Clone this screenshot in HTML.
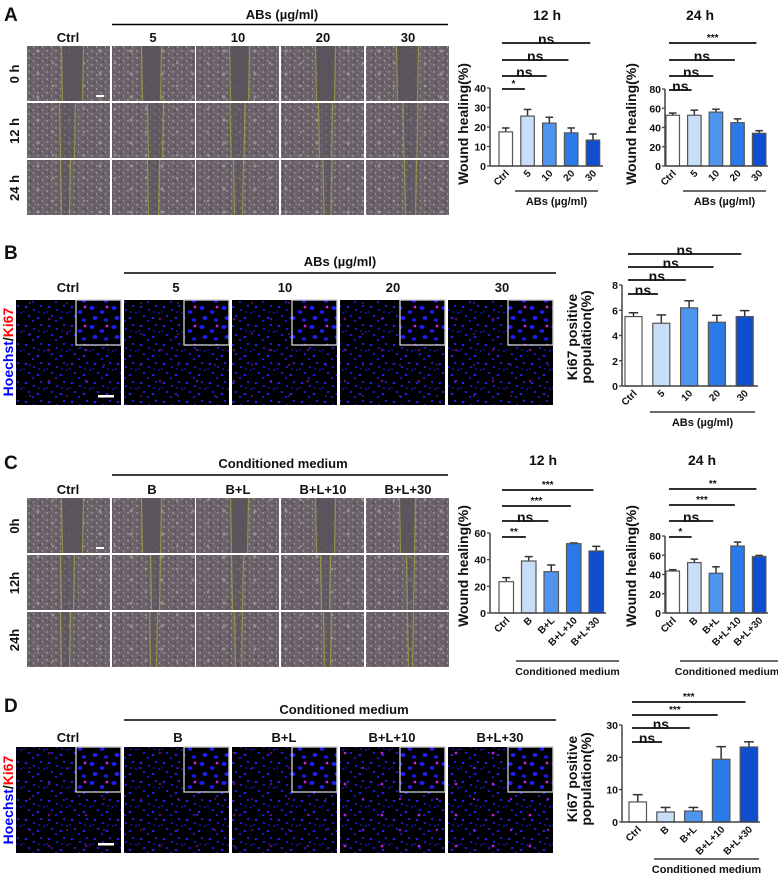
<!DOCTYPE html>
<html><head><meta charset="utf-8"><style>
html,body{margin:0;padding:0;background:#fff;}
svg{display:block;font-family:"Liberation Sans",Arial,sans-serif;}
text{font-weight:bold;fill:#111;}
</style></head><body>
<svg id="fig" width="778" height="876" viewBox="0 0 778 876" xmlns="http://www.w3.org/2000/svg">
<defs>
<pattern id="phase" width="9" height="7" patternUnits="userSpaceOnUse"><rect width="9" height="7" fill="#6a6169"/><circle cx="2" cy="2" r="0.7" fill="#c4b9bd"/><circle cx="6.5" cy="5" r="0.6" fill="#cfc5c8"/><circle cx="4" cy="6" r="0.7" fill="#48424a"/><circle cx="8" cy="1" r="0.5" fill="#9a9097"/></pattern>
<pattern id="phase2" width="31" height="23" patternUnits="userSpaceOnUse"><circle cx="7" cy="5" r="1.6" fill="#b5aab0" opacity="0.6"/><circle cx="22" cy="17" r="1.3" fill="#c0b5ba" opacity="0.5"/></pattern>
<pattern id="fluor" width="23" height="19" patternUnits="userSpaceOnUse"><rect width="23" height="19" fill="#000"/><ellipse cx="3" cy="3" rx="1.4" ry="1.1" fill="#2020f0"/><ellipse cx="11" cy="6" rx="1.3" ry="1.0" fill="#1c1ce0"/><ellipse cx="18" cy="2" rx="1.2" ry="1.0" fill="#2222f5"/><ellipse cx="6" cy="12" rx="1.3" ry="1.1" fill="#1a1ad8"/><ellipse cx="15" cy="14" rx="1.4" ry="1.1" fill="#2020f0"/><ellipse cx="21" cy="9" rx="1.1" ry="0.9" fill="#1818d0"/><ellipse cx="10" cy="17" rx="1.2" ry="1.0" fill="#1c1ce8"/><ellipse cx="1" cy="8" rx="1.0" ry="0.9" fill="#1616c0"/><ellipse cx="16" cy="8" rx="1.0" ry="0.8" fill="#1a1ad8"/></pattern>
<pattern id="fluorM" width="37" height="31" patternUnits="userSpaceOnUse"><circle cx="12" cy="9" r="1.3" fill="#c020d0"/><circle cx="30" cy="24" r="1.1" fill="#a018c0"/></pattern>
<pattern id="fluorBig" width="22" height="19" patternUnits="userSpaceOnUse"><rect width="22" height="19" fill="#000"/><ellipse cx="4" cy="4" rx="2.6" ry="2.0" fill="#1f1ff5"/><ellipse cx="14" cy="8" rx="2.4" ry="1.9" fill="#1c1ce8"/><ellipse cx="7" cy="14" rx="2.5" ry="2.0" fill="#2020f0"/><ellipse cx="18" cy="16" rx="2.2" ry="1.8" fill="#1a1ae0"/><circle cx="19" cy="3" r="1.4" fill="#d020e0"/></pattern>
</defs>

<text x="4" y="21" font-size="19">A</text>
<text x="282" y="19" font-size="13" text-anchor="middle">ABs (µg/ml)</text>
<line x1="112" y1="24.5" x2="448" y2="24.5" stroke="#000" stroke-width="1.5"/>
<text x="68" y="42" font-size="13" text-anchor="middle">Ctrl</text>
<text x="153" y="42" font-size="13" text-anchor="middle">5</text>
<text x="238" y="42" font-size="13" text-anchor="middle">10</text>
<text x="323" y="42" font-size="13" text-anchor="middle">20</text>
<text x="408" y="42" font-size="13" text-anchor="middle">30</text>
<text transform="translate(19,74) rotate(-90)" font-size="13" text-anchor="middle">0 h</text>
<text transform="translate(19,131) rotate(-90)" font-size="13" text-anchor="middle">12 h</text>
<text transform="translate(19,188) rotate(-90)" font-size="13" text-anchor="middle">24 h</text>

<text x="4" y="259" font-size="19">B</text>
<text x="340" y="266" font-size="13" text-anchor="middle">ABs (µg/ml)</text>
<line x1="124" y1="273" x2="556" y2="273" stroke="#000" stroke-width="1.5"/>
<text x="68" y="292" font-size="13" text-anchor="middle">Ctrl</text>
<text x="176" y="292" font-size="13" text-anchor="middle">5</text>
<text x="285" y="292" font-size="13" text-anchor="middle">10</text>
<text x="393" y="292" font-size="13" text-anchor="middle">20</text>
<text x="502" y="292" font-size="13" text-anchor="middle">30</text>
<text transform="translate(13,352) rotate(-90)" font-size="14" text-anchor="middle"><tspan style="fill:#0000ff">Hoechst</tspan><tspan style="fill:#111">/</tspan><tspan style="fill:#ff0000">Ki67</tspan></text>

<text x="4" y="469" font-size="19">C</text>
<text x="283" y="468" font-size="13" text-anchor="middle">Conditioned medium</text>
<line x1="112" y1="475" x2="448" y2="475" stroke="#000" stroke-width="1.5"/>
<text x="68" y="494" font-size="13" text-anchor="middle">Ctrl</text>
<text x="152" y="494" font-size="13" text-anchor="middle">B</text>
<text x="238" y="494" font-size="13" text-anchor="middle">B+L</text>
<text x="323" y="494" font-size="13" text-anchor="middle">B+L+10</text>
<text x="408" y="494" font-size="13" text-anchor="middle">B+L+30</text>
<text transform="translate(19,526) rotate(-90)" font-size="13" text-anchor="middle">0h</text>
<text transform="translate(19,583) rotate(-90)" font-size="13" text-anchor="middle">12h</text>
<text transform="translate(19,640) rotate(-90)" font-size="13" text-anchor="middle">24h</text>

<text x="4" y="712" font-size="19">D</text>
<text x="344" y="714" font-size="13" text-anchor="middle">Conditioned medium</text>
<line x1="124" y1="720" x2="556" y2="720" stroke="#000" stroke-width="1.5"/>
<text x="68" y="742" font-size="13" text-anchor="middle">Ctrl</text>
<text x="178" y="742" font-size="13" text-anchor="middle">B</text>
<text x="284" y="742" font-size="13" text-anchor="middle">B+L</text>
<text x="392" y="742" font-size="13" text-anchor="middle">B+L+10</text>
<text x="500" y="742" font-size="13" text-anchor="middle">B+L+30</text>
<text transform="translate(13,800) rotate(-90)" font-size="14" text-anchor="middle"><tspan style="fill:#0000ff">Hoechst</tspan><tspan style="fill:#111">/</tspan><tspan style="fill:#ff0000">Ki67</tspan></text>
</svg>

<script>
const groupsAB = ["Ctrl","5","10","20","30"];
const groupsCM = ["Ctrl","B","B+L","B+L+10","B+L+30"];
const a12Mean = [17.5,25.6,22,17,13.3];
const a12Err  = [2,3.4,3,2.5,3.1];
const a24Mean = [52.7,52.7,56,45,34];
const a24Err  = [2.3,5.3,3,4,2.7];
const bMean   = [5.5,4.97,6.19,5.05,5.5];
const bErr    = [0.3,0.66,0.56,0.55,0.47];
const c12Mean = [23.5,39,31,52,46.5];
const c12Err  = [3,3.3,5,0.5,3.5];
const c24Mean = [43.6,52.4,41.3,69.6,58.7];
const c24Err  = [1.4,3.6,6.7,4.1,1.1];
const dMean   = [6.2,3.1,3.4,19.4,23.2];
const dErr    = [2.25,1.4,1.1,3.9,1.6];
const a12Sig = ["*","ns","ns","ns"];
const a24Sig = ["ns","ns","ns","***"];
const bSig   = ["ns","ns","ns","ns"];
const c12Sig = ["**","ns","***","***"];
const c24Sig = ["*","ns","***","**"];
const dSig   = ["ns","ns","***","***"];
const ticksA12 = [0,10,20,30,40];
const ticks80  = [0,20,40,60,80];
const ticksB   = [0,2,4,6,8];
const ticksC12 = [0,20,40,60];
const ticksD   = [0,10,20,30];

const NS='http://www.w3.org/2000/svg';
const svg=document.getElementById('fig');
const barColors=['#ffffff','#c8ddf7','#4f94ee','#2a7be9','#0f4fcf'];
function mk(t,a,p){const e=document.createElementNS(NS,t);for(const k in a)e.setAttribute(k,a[k]);(p||svg).appendChild(e);return e;}

function phaseImg(x,y,w,h,gap,off,row){
  const g=mk('g',{});
  
  
  mk('rect',{x:x,y:y,width:w,height:h,fill:'url(#phase)'},g);
  mk('rect',{x:x,y:y,width:w,height:h,fill:'url(#phase2)'},g);
  const gx=x+w/2-gap/2+off;
  mk('rect',{x:gx,y:y,width:gap,height:h,fill:'#57525a',opacity:row===0?0.85:0.5},g);
  mk('line',{x1:gx,y1:y,x2:gx+1,y2:y+h,stroke:'#a6ac45','stroke-width':1.2,opacity:0.7},g);
  mk('line',{x1:gx+gap,y1:y,x2:gx+gap-1,y2:y+h,stroke:'#a6ac45','stroke-width':1.2,opacity:0.7},g);
}
const phLefts=[27,112,196,281,366];
const gapsA=[[22,20,20,20,22],[16,16,15,14,15],[10,12,10,9,12]];
const offsA=[[4,-2,2,3,0],[-1,2,0,3,3],[-3,0,1,5,3]];
[46,103,160].forEach((ry,r)=>phLefts.forEach((lx,c)=>phaseImg(lx,ry,83,55,gapsA[r][c],offsA[r][c],r)));
const gapsC=[[22,20,18,20,16],[14,10,12,10,8],[10,8,8,8,6]];
[498,555,612].forEach((ry,r)=>phLefts.forEach((lx,c)=>phaseImg(lx,ry,83,55,gapsC[r][c],offsA[r][c],r)));
mk('rect',{x:96,y:95,width:8,height:2,fill:'#fff'});
mk('rect',{x:96,y:547,width:8,height:2,fill:'#fff'});

function fluorImg(x,y,w,h,heavy){
  const g=mk('g',{});
  
  
  mk('rect',{x:x,y:y,width:w,height:h,fill:'url(#fluor)'},g);
  mk('rect',{x:x,y:y,width:w,height:h,fill:'url(#fluorM)',opacity:heavy?1:0.5},g);
  if(heavy) mk('rect',{x:x+3,y:y+4,width:w-3,height:h-4,fill:'url(#fluorM)'},g);
  mk('rect',{x:x+w-45,y:y,width:45,height:45,fill:'url(#fluorBig)',stroke:'#d0d0d0','stroke-width':1.3},g);
}
const flLefts=[16,124,232,340,448];
flLefts.forEach((lx,i)=>fluorImg(lx,300,105,105,false));
flLefts.forEach((lx,i)=>fluorImg(lx,747,105,106,i>=3));
mk('rect',{x:98,y:395,width:16,height:2.5,fill:'#fff'});
mk('rect',{x:98,y:843,width:16,height:2.5,fill:'#fff'});

function chart(c){
  const g=mk('g',{});
  
  
  const maxT=c.ticks[c.ticks.length-1];
  const y=v=>c.base-(v/maxT)*(c.base-c.top);
  const bx=i=>c.x0+i*c.pitch;
  c.mean.forEach((m,i)=>{
    const cx=bx(i)+c.bw/2;
    const e=mk('line',{x1:cx,y1:y(m),x2:cx,y2:y(m+c.err[i]),stroke:'#333','stroke-width':1.5},g);
    
    
    const cap=mk('line',{x1:cx-c.bw*0.28,y1:y(m+c.err[i]),x2:cx+c.bw*0.28,y2:y(m+c.err[i]),stroke:'#333','stroke-width':1.5},g);
    
    
    const r=mk('rect',{x:bx(i),y:y(m),width:c.bw,height:c.base-y(m),fill:barColors[i],stroke:'#555','stroke-width':1.2},g);
    
    
    const t=mk('text',{transform:`translate(${cx+4},${c.base+8}) rotate(-45)`,'font-size':10,'text-anchor':'end'},g);
    t.textContent=c.cats[i];
    
    
  });
  const ax=mk('line',{x1:c.ax,y1:c.base,x2:c.ax,y2:c.top,stroke:'#444','stroke-width':1.5},g);
  
  
  const xa=mk('line',{x1:c.ax,y1:c.base,x2:c.xend,y2:c.base,stroke:'#444','stroke-width':1.5},g);
  
  
  c.ticks.forEach(t=>{
    mk('line',{x1:c.ax-3,y1:y(t),x2:c.ax,y2:y(t),stroke:'#444','stroke-width':1.3},g);
    const l=mk('text',{x:c.ax-4,y:y(t)+4,'font-size':10.5,'text-anchor':'end'},g);
    l.textContent=t;
    
    
  });
  c.sig.forEach((s,j)=>{
    const x1=c.x0+3, x2=bx(j+1)+c.bw*0.3, ly=c.sigY[j];
    const sl=mk('line',{x1:x1,y1:ly,x2:x2,y2:ly,stroke:'#111','stroke-width':1.8},g);
    
    
    const st=mk('text',{x:(x1+x2)/2,y:s==='ns'?ly+1:ly-2,'font-size':s==='ns'?14:10,'text-anchor':'middle'},g);
    st.textContent=s;
    
    
  });
  c.ytitle.forEach((s,k)=>{
    const yt=mk('text',{transform:`translate(${c.ytx+k*14},${c.yty}) rotate(-90)`,'font-size':14,'text-anchor':'middle'},g);
    yt.textContent=s;
    
    
  });
  if(c.title){
    const tt=mk('text',{x:c.titleX,y:c.titleY,'font-size':14,'text-anchor':'middle'},g);
    tt.textContent=c.title;
    
    
  }
  const gl=mk('line',{x1:c.gl[0],y1:c.gl[2],x2:c.gl[1],y2:c.gl[2],stroke:'#111','stroke-width':1.3},g);
  
  
  const gt=mk('text',{x:c.glText||(c.gl[0]+c.gl[1])/2,y:c.gl[2]+14,'font-size':c.glSize||11,'text-anchor':'middle'},g);
  gt.textContent=c.group;
  
  
}

chart({name:'chart-a-12h',cats:groupsAB,mean:a12Mean,err:a12Err,sig:a12Sig,ticks:ticksA12,ax:490,x0:499,pitch:21.8,bw:13.5,base:166,top:88,xend:603,sigY:[89,76,60,43],ytitle:['Wound healing(%)'],ytx:468,yty:124,title:'12 h',titleX:547,titleY:20,gl:[515,598,191],group:'ABs (µg/ml)'});
chart({name:'chart-a-24h',cats:groupsAB,mean:a24Mean,err:a24Err,sig:a24Sig,ticks:ticks80,ax:665,x0:666,pitch:21.6,bw:13.5,base:166,top:89,xend:768,sigY:[90,76,60,43],ytitle:['Wound healing(%)'],ytx:636,yty:124,title:'24 h',titleX:700,titleY:20,gl:[683,766,191],group:'ABs (µg/ml)'});
chart({name:'chart-b-ki67',cats:groupsAB,mean:bMean,err:bErr,sig:bSig,ticks:ticksB,ax:622,x0:625,pitch:27.8,bw:17,base:386,top:285,xend:758,sigY:[294,280,267,254],ytitle:['Ki67 positive','population(%)'],ytx:577,yty:337,title:null,gl:[650,755,412],group:'ABs (µg/ml)'});
chart({name:'chart-c-12h',cats:groupsCM,mean:c12Mean,err:c12Err,sig:c12Sig,ticks:ticksC12,ax:490,x0:499,pitch:22.5,bw:14.5,base:613,top:533,xend:606,sigY:[537,521,506,490],ytitle:['Wound healing(%)'],ytx:468,yty:566,title:'12 h',titleX:543,titleY:465,gl:[516,619,661],group:'Conditioned medium',glSize:10.5});
chart({name:'chart-c-24h',cats:groupsCM,mean:c24Mean,err:c24Err,sig:c24Sig,ticks:ticks80,ax:665,x0:666,pitch:21.6,bw:13.5,base:613,top:536,xend:768,sigY:[537,521,505,489],ytitle:['Wound healing(%)'],ytx:636,yty:566,title:'24 h',titleX:702,titleY:465,gl:[680,778,661],group:'Conditioned medium',glSize:10.5,glText:727});
chart({name:'chart-d-ki67',cats:groupsCM,mean:dMean,err:dErr,sig:dSig,ticks:ticksD,ax:622,x0:629,pitch:27.8,bw:17.5,base:822,top:725,xend:760,sigY:[742,728,715,702],ytitle:['Ki67 positive','population(%)'],ytx:577,yty:779,title:null,gl:[654,759,859],group:'Conditioned medium'});
</script>
</body></html>
